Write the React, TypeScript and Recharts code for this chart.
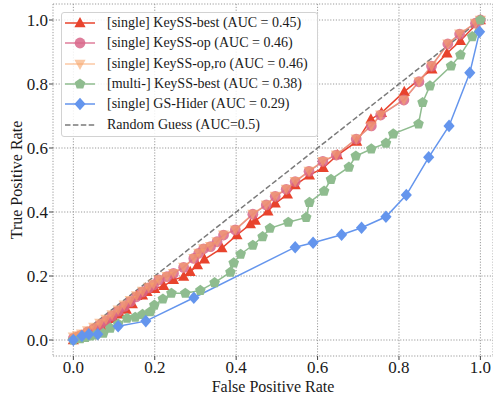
import React from "react";
import { LineChart, Line, XAxis, YAxis, CartesianGrid, Legend } from "recharts";

// [fpr, tpr] pairs
const keyssBest: number[][] = [
  [0, 0], [0.012, 0.006], [0.025, 0.012], [0.04, 0.02], [0.055, 0.03], [0.07, 0.04],
  [0.085, 0.052], [0.1, 0.066], [0.115, 0.08], [0.13, 0.095], [0.145, 0.112], [0.156, 0.138],
  [0.17, 0.14], [0.181, 0.151], [0.2, 0.16], [0.222, 0.169], [0.246, 0.188], [0.271, 0.198],
  [0.287, 0.213], [0.305, 0.234], [0.322, 0.252], [0.365, 0.287], [0.402, 0.328], [0.435, 0.362],
  [0.447, 0.373], [0.478, 0.402], [0.496, 0.427], [0.526, 0.455], [0.545, 0.484], [0.58, 0.515],
  [0.614, 0.538], [0.649, 0.578], [0.696, 0.62], [0.731, 0.69], [0.757, 0.71], [0.813, 0.776],
  [0.881, 0.846], [0.918, 0.896], [0.951, 0.935], [1, 1],
];

const keyssOp: number[][] = [
  [0, 0.005], [0.01, 0.01], [0.02, 0.015], [0.035, 0.025], [0.05, 0.035], [0.065, 0.047],
  [0.08, 0.06], [0.095, 0.075], [0.11, 0.09], [0.125, 0.105], [0.14, 0.12], [0.155, 0.135],
  [0.17, 0.15], [0.185, 0.163], [0.197, 0.172], [0.21, 0.188], [0.23, 0.198], [0.246, 0.208],
  [0.271, 0.227], [0.296, 0.255], [0.308, 0.271], [0.32, 0.285], [0.337, 0.292], [0.353, 0.307],
  [0.369, 0.328], [0.398, 0.344], [0.441, 0.393], [0.474, 0.422], [0.496, 0.449], [0.523, 0.471],
  [0.545, 0.495], [0.579, 0.527], [0.613, 0.558], [0.646, 0.578], [0.695, 0.628], [0.732, 0.669],
  [0.755, 0.703], [0.812, 0.75], [0.849, 0.807], [0.88, 0.856], [0.92, 0.925], [0.949, 0.956],
  [0.988, 0.99], [1, 1],
];

const keyssOpRo: number[][] = [
  [0, 0.01], [0.01, 0.014], [0.02, 0.02], [0.035, 0.03], [0.05, 0.041], [0.065, 0.053],
  [0.08, 0.066], [0.095, 0.08], [0.11, 0.095], [0.125, 0.11], [0.14, 0.124], [0.155, 0.139],
  [0.17, 0.153], [0.185, 0.166], [0.197, 0.175], [0.21, 0.189], [0.23, 0.199], [0.246, 0.209],
  [0.271, 0.228], [0.296, 0.256], [0.308, 0.272], [0.32, 0.286], [0.337, 0.293], [0.353, 0.308],
  [0.369, 0.329], [0.398, 0.345], [0.441, 0.394], [0.474, 0.423], [0.496, 0.45], [0.523, 0.472],
  [0.545, 0.496], [0.579, 0.528], [0.613, 0.559], [0.646, 0.579], [0.695, 0.629], [0.732, 0.67],
  [0.755, 0.704], [0.812, 0.751], [0.849, 0.808], [0.88, 0.857], [0.92, 0.926], [0.949, 0.957],
  [0.988, 0.991], [1, 1],
];

const multiBest: number[][] = [
  [0, 0], [0.017, 0.004], [0.03, 0.008], [0.042, 0.0125], [0.055, 0.016], [0.074, 0.021],
  [0.091, 0.037], [0.11, 0.05], [0.132, 0.068], [0.152, 0.071], [0.17, 0.08], [0.189, 0.088],
  [0.199, 0.109], [0.22, 0.128], [0.241, 0.146], [0.275, 0.146], [0.312, 0.155], [0.347, 0.179],
  [0.386, 0.212], [0.394, 0.241], [0.411, 0.268], [0.441, 0.296], [0.465, 0.323], [0.483, 0.349],
  [0.528, 0.368], [0.572, 0.383], [0.58, 0.43], [0.616, 0.465], [0.633, 0.502], [0.677, 0.54],
  [0.694, 0.575], [0.732, 0.597], [0.768, 0.615], [0.786, 0.644], [0.848, 0.675], [0.858, 0.742],
  [0.876, 0.794], [0.928, 0.856], [0.951, 0.891], [0.98, 0.948], [1, 1],
];

const gsHider: number[][] = [
  [0, 0], [0.021, 0.0125], [0.038, 0.018], [0.06, 0.018], [0.11, 0.043], [0.178, 0.059],
  [0.296, 0.132], [0.545, 0.29], [0.589, 0.304], [0.659, 0.329], [0.708, 0.351], [0.768, 0.385],
  [0.818, 0.453], [0.873, 0.571], [0.923, 0.669], [0.974, 0.835], [0.998, 0.963],
];

const randomGuess: number[][] = [[0, 0], [1, 1]];

const ticks = [0, 0.2, 0.4, 0.6, 0.8, 1.0];

const serif = "Liberation Serif, Times New Roman, serif";
const ink = "#1a1a1a";

type Shape = "up" | "down" | "circle" | "pentagon" | "diamond" | "none";

interface Series {
  name: string;
  data: number[][];
  color: string;
  shape: Shape;
  opacity: number;
  dash?: string;
}

const series: Series[] = [
  { name: "[single] KeySS-best (AUC = 0.45)", data: keyssBest, color: "#e8432d", shape: "up", opacity: 1 },
  { name: "[single] KeySS-op (AUC = 0.46)", data: keyssOp, color: "#d8668a", opacity: 0.85, shape: "circle" },
  { name: "[single] KeySS-op,ro (AUC = 0.46)", data: keyssOpRo, color: "#f6a468", opacity: 0.6, shape: "down" },
  { name: "[multi-] KeySS-best (AUC = 0.38)", data: multiBest, color: "#8fbc8f", opacity: 1, shape: "pentagon" },
  { name: "[single] GS-Hider (AUC = 0.29)", data: gsHider, color: "#6495ed", opacity: 1, shape: "diamond" },
  { name: "Random Guess (AUC=0.5)", data: randomGuess, color: "#7a7a7a", opacity: 1, shape: "none", dash: "5.5 2.4" },
];

const toPts = (arr: number[][]) => arr.map(([x, y]) => ({ x, y }));

const Marker = (props: { shape: Shape; cx: number; cy: number; color: string; opacity: number }) => {
  const { shape, cx, cy, color, opacity } = props;
  if (cx == null || cy == null) return null;
  switch (shape) {
    case "up":
      return <polygon points={`${cx},${cy - 6} ${cx - 5.6},${cy + 4.2} ${cx + 5.6},${cy + 4.2}`} fill={color} fillOpacity={opacity} />;
    case "down":
      return <polygon points={`${cx},${cy + 6} ${cx - 5.6},${cy - 4.2} ${cx + 5.6},${cy - 4.2}`} fill={color} fillOpacity={opacity} />;
    case "circle":
      return <circle cx={cx} cy={cy} r={5.4} fill={color} fillOpacity={opacity} />;
    case "pentagon": {
      const pts = [0, 1, 2, 3, 4]
        .map(k => {
          const a = (-90 + k * 72) * (Math.PI / 180);
          return `${cx + 5.6 * Math.cos(a)},${cy + 5.6 * Math.sin(a)}`;
        })
        .join(" ");
      return <polygon points={pts} fill={color} fillOpacity={opacity} />;
    }
    case "diamond":
      return <polygon points={`${cx},${cy - 6.3} ${cx + 5.6},${cy} ${cx},${cy + 6.3} ${cx - 5.6},${cy}`} fill={color} fillOpacity={opacity} />;
    default:
      return null;
  }
};

const XTick = (props: any) => (
  <text x={props.x} y={props.y} dy="0.71em" textAnchor="middle" fontFamily={serif} fontSize={17} fill={ink}>
    {Number(props.payload.value).toFixed(1)}
  </text>
);

const YTick = (props: any) => (
  <text x={props.x} y={props.y} dy="0.36em" textAnchor="end" fontFamily={serif} fontSize={17} fill={ink}>
    {Number(props.payload.value).toFixed(1)}
  </text>
);

const LegendBox = () => (
  <div
    style={{
      boxSizing: "border-box",
      width: 257,
      height: 125,
      background: "rgba(255,255,255,0.85)",
      border: "1px solid #d2d2d2",
      borderRadius: 3,
      fontFamily: serif,
      fontSize: 14,
      color: ink,
    }}
  >
    {series.map(s => (
      <div key={s.name} style={{ display: "flex", alignItems: "center", height: 20.3, whiteSpace: "nowrap" }}>
        <svg width={44} height={20} style={{ flex: "none", marginRight: 1 }}>
          <line x1={3} y1={10} x2={33} y2={10} stroke={s.color} strokeWidth={1.5} strokeOpacity={s.opacity} strokeDasharray={s.dash} />
          <Marker shape={s.shape} cx={18} cy={10} color={s.color} opacity={s.opacity} />
        </svg>
        <span>{s.name}</span>
      </div>
    ))}
  </div>
);

export default function App() {
  return (
    <div style={{ position: "absolute", left: 0, top: 0, fontFamily: serif }}>
      <LineChart width={493} height={394} margin={{ top: 4, right: 0, bottom: 0, left: 0 }} style={{ fontFamily: serif }}>
        <CartesianGrid stroke="#9a9a9a" strokeDasharray="1.2 1.6" />
        <XAxis
          type="number"
          dataKey="x"
          domain={[-0.05, 1.031]}
          allowDataOverflow
          ticks={ticks}
          axisLine={false}
          tickSize={4}
          tickMargin={1}
          tickLine={{ stroke: "#444" }}
          tick={<XTick />}
          height={38}
          label={{ value: "False Positive Rate", position: "insideBottom", offset: 2, style: { fontSize: 16, fill: ink, fontFamily: serif } }}
        />
        <YAxis
          type="number"
          dataKey="y"
          domain={[-0.05, 1.05]}
          allowDataOverflow
          ticks={ticks}
          axisLine={false}
          tickSize={4}
          tickMargin={1}
          tickLine={{ stroke: "#444" }}
          tick={<YTick />}
          width={53}
          label={{
            value: "True Positive Rate",
            angle: -90,
            position: "insideLeft",
            offset: 16,
            style: { textAnchor: "middle", fontSize: 16, fill: ink, fontFamily: serif },
          }}
        />
        <Legend
          layout="vertical"
          verticalAlign="middle"
          align="center"
          content={<LegendBox />}
          wrapperStyle={{ left: 61, top: 12, width: 257 }}
        />
        {series.map(s => (
          <Line
            key={s.name}
            name={s.name}
            data={toPts(s.data)}
            dataKey="y"
            type="linear"
            stroke={s.color}
            strokeOpacity={s.opacity}
            strokeWidth={1.5}
            strokeDasharray={s.dash}
            isAnimationActive={false}
            activeDot={false}
            dot={
              s.shape === "none"
                ? false
                : (p: any) => (
                    <Marker key={`${s.shape}-${p.index}`} shape={s.shape} cx={p.cx} cy={p.cy} color={s.color} opacity={s.opacity} />
                  )
            }
          />
        ))}
      </LineChart>
    </div>
  );
}
